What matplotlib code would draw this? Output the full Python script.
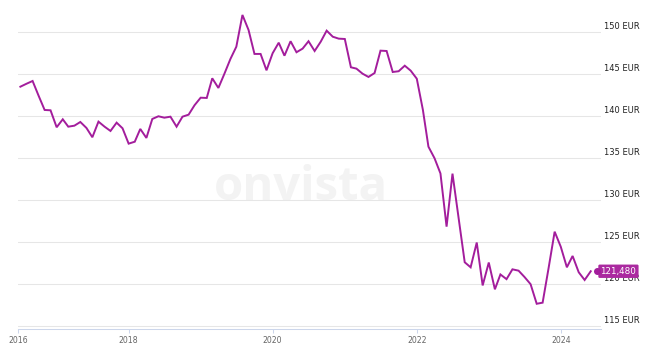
import matplotlib
matplotlib.use("Agg")
import matplotlib.pyplot as plt
import matplotlib.transforms as mtransforms
import numpy as np
import pandas as pd

# ---- data ----
start_month = "2016-07-01"
prices = [143.45, 143.8, 144.13, 142.4, 140.68, 140.64, 138.62, 139.57, 138.69, 138.81,
          139.25, 138.54, 137.43, 139.29, 138.69, 138.18, 139.17, 138.5, 136.67, 136.9,
          138.42, 137.35, 139.61, 139.93, 139.76, 139.88, 138.69, 139.88, 140.12, 141.24,
          142.14, 142.11, 144.45, 143.3, 144.96, 146.75, 148.21, 151.99, 150.2, 147.35,
          147.35, 145.4, 147.43, 148.69, 147.14, 148.86, 147.55, 147.98, 148.86, 147.7,
          148.81, 150.12, 149.4, 149.17, 149.13, 145.76, 145.6, 145.0, 144.61, 145.08,
          147.74, 147.7, 145.2, 145.29, 145.95, 145.36, 144.4, 140.68, 136.31, 134.93,
          133.12, 126.79, 133.1, 127.82, 122.55, 121.95, 124.9, 119.79, 122.52, 119.33,
          121.1, 120.54, 121.71, 121.55, 120.8, 119.94, 117.61, 117.74, 121.96, 126.19,
          124.4, 121.95, 123.3, 121.36, 120.44, 121.48]
y_ticks = [115, 120, 125, 130, 135, 140, 145, 150]
y_tick_labels = [f"{v} EUR" for v in y_ticks]
x_tick_dates = ["2016-06-19", "2018-01-01", "2020-01-01", "2022-01-01", "2024-01-01"]
x_tick_labels = ["2016", "2018", "2020", "2022", "2024"]
last_label = f"{prices[-1]:.3f}".replace(".", ",")

dates = pd.date_range(start_month, periods=len(prices), freq="MS")

W, H = 647, 353
fig = plt.figure(figsize=(W / 100, H / 100), dpi=100)
ax = fig.add_axes([18 / W, (H - 329.3) / H, (601 - 18) / W, 329.3 / H])

line_color = "#a31d9c"

ax.plot(dates, prices, color=line_color, lw=1.4, zorder=3, solid_joinstyle="miter")

ax.set_xlim(pd.Timestamp("2016-06-19"), pd.Timestamp("2024-07-23"))
ax.set_ylim(114.57, 153.77)

# grid
ax.set_yticks(y_ticks)
ax.yaxis.grid(True, color="#e6e6e6", lw=0.75)
ax.tick_params(axis="y", length=0, labelleft=False)
ax.set_axisbelow(True)

for s in ["top", "right", "left"]:
    ax.spines[s].set_visible(False)
ax.spines["bottom"].set_color("#ccd6eb")
ax.spines["bottom"].set_linewidth(0.75)

ax.set_xticks(pd.to_datetime(x_tick_dates))
ax.set_xticklabels(x_tick_labels)
ax.tick_params(axis="x", length=3, width=0.75, color="#ccd6eb", pad=2,
               labelsize=5.6, labelcolor="#666666")

# y labels on the right
trans = mtransforms.blended_transform_factory(fig.transFigure, ax.transData)
off = mtransforms.ScaledTranslation(0, 5 / 100, fig.dpi_scale_trans)
for v, lab in zip(y_ticks, y_tick_labels):
    ax.text(604.5 / W, v, lab, transform=trans + off, ha="left", va="center",
            fontsize=6, color="#222222", clip_on=False)

# watermark
ax.text(301 / W, 1 - 187 / H, "onvista", transform=fig.transFigure, ha="center",
        va="center", fontsize=34, fontweight="bold", family="Open Sans",
        color="#f3f3f3", zorder=0)

# last price label
ax.text(600.5 / W, prices[-1], last_label, transform=trans, ha="left", va="center",
        fontsize=6.3, color="white", clip_on=False, zorder=6,
        bbox=dict(boxstyle="round,pad=0.25,rounding_size=0.15", fc="#ab2aa0",
                  ec="none"))
ax.plot([596.5 / W], [prices[-1]], transform=trans, marker="o", ms=4,
        color=line_color, clip_on=False, zorder=7)

fig.savefig("out.png", dpi=100)
